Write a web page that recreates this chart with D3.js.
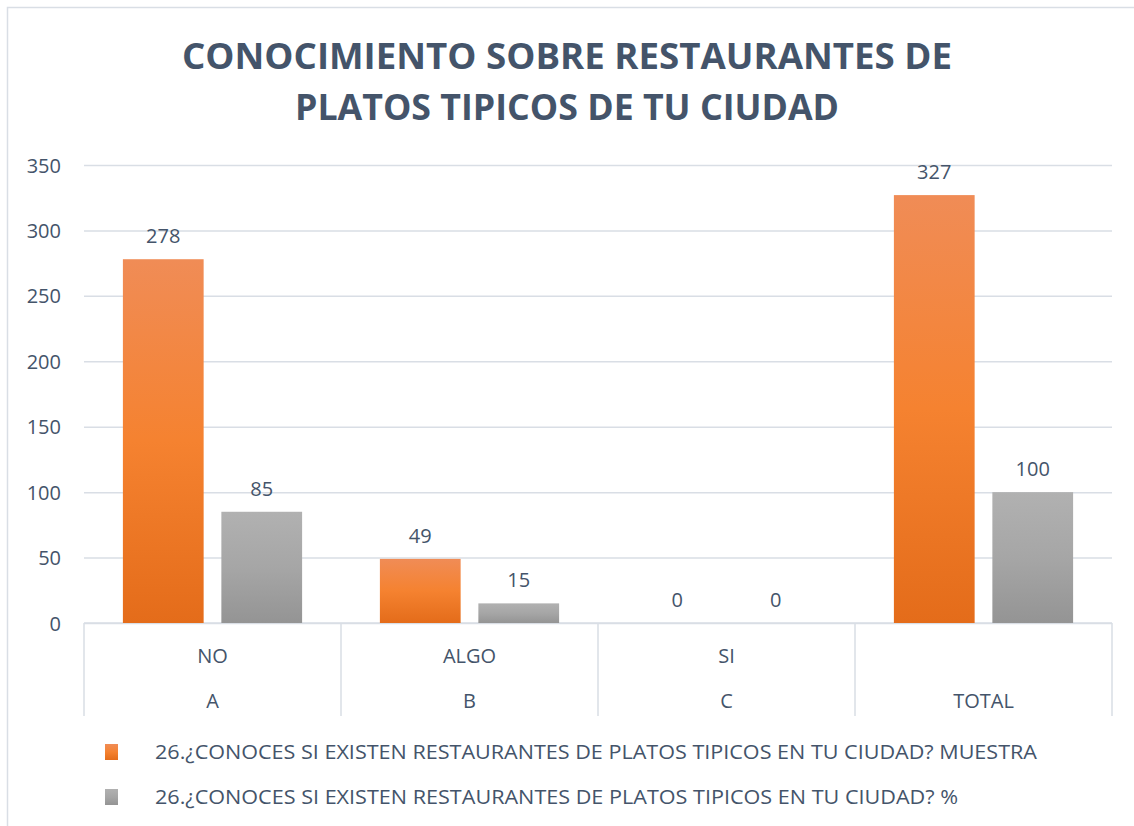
<!DOCTYPE html>
<html><head><meta charset="utf-8">
<script src="https://cdn.jsdelivr.net/npm/d3@7"></script>
<style>html,body{margin:0;padding:0;background:#fff;} svg{display:block;}</style>
</head><body>
<svg id="chart" width="1134" height="826"></svg>
<script>
const categories = ["NO","ALGO","SI","TOTAL"];
const subLabels = ["A","B","C","TOTAL"];
const muestra = [278,49,0,327];
const pct = [85,15,0,100];
const seriesNames = ["26.¿CONOCES SI EXISTEN RESTAURANTES DE PLATOS TIPICOS EN TU CIUDAD? MUESTRA","26.¿CONOCES SI EXISTEN RESTAURANTES DE PLATOS TIPICOS EN TU CIUDAD? %"];
const yTicks = [0,50,100,150,200,250,300,350];
const titleLines = ["CONOCIMIENTO SOBRE RESTAURANTES DE","PLATOS TIPICOS DE TU CIUDAD"];

const svg = d3.select("#chart");
const txt = "#44546A", grid = "#D9DEE5";
const font = "'Open Sans', sans-serif";
const fs = 20;

// outer frame
svg.append("rect").attr("x",7.5).attr("y",7.5).attr("width",1200).attr("height",900)
  .attr("fill","#fff").attr("stroke","#D9DEE5").attr("stroke-width",1.5);

const defs = svg.append("defs");
function grad(id, stops){
  const g = defs.append("linearGradient").attr("id",id).attr("x1",0).attr("y1",0).attr("x2",0).attr("y2",1);
  stops.forEach(s=>g.append("stop").attr("offset",s[0]).attr("stop-color",s[1]));
}
grad("gOr",[[0,"#F08C56"],[0.5,"#F58230"],[1,"#E46C1A"]]);
grad("gGr",[[0,"#B1B1B1"],[0.5,"#A6A6A6"],[1,"#949494"]]);

// title
const tw = [770,544], tb = [69,120];
titleLines.forEach((t,i)=>{
  svg.append("text").attr("x",567).attr("y",tb[i]).attr("text-anchor","middle")
    .attr("font-family",font).attr("font-weight",700).attr("font-size",36)
    .attr("fill",txt).attr("textLength",tw[i]).attr("lengthAdjust","spacingAndGlyphs").text(t);
});

const x0 = 84, x1 = 1112, yTop = 165, yBot = 623;
const y = d3.scaleLinear().domain([0,350]).range([yBot,yTop]);
const xb = d3.scaleBand().domain(categories).range([x0,x1]).paddingInner(0).paddingOuter(0);
const xs = d3.scaleBand().domain([0,1]).range([0,xb.bandwidth()]).paddingInner(0.18).paddingOuter(0.395);

// gridlines
const gAxis = svg.append("g").attr("transform",`translate(${x0},0)`)
  .call(d3.axisLeft(y).tickValues(yTicks).tickSize(-(x1-x0)).tickPadding(23).tickFormat(d3.format("d")));
gAxis.select(".domain").remove();
gAxis.selectAll(".tick line").attr("stroke",grid).attr("stroke-width",1.5);
gAxis.selectAll(".tick text").attr("font-family",font).attr("font-size",fs).attr("fill",txt).attr("dy","0.35em");

// category axis line and separators
svg.append("line").attr("x1",x0).attr("x2",x1).attr("y1",yBot).attr("y2",yBot).attr("stroke",grid).attr("stroke-width",1.5);
const seps = categories.map(c=>xb(c)).concat([x1]);
svg.selectAll(".sep").data(seps).enter().append("line")
  .attr("x1",d=>d).attr("x2",d=>d).attr("y1",yBot).attr("y2",716)
  .attr("stroke",grid).attr("stroke-width",1.5);

// bars
const series = [muestra,pct];
const fills = ["url(#gOr)","url(#gGr)"];
series.forEach((vals,si)=>{
  const g = svg.append("g");
  g.selectAll("rect").data(vals).enter().append("rect")
    .attr("x",(d,i)=>xb(categories[i])+xs(si))
    .attr("width",xs.bandwidth())
    .attr("y",d=>y(d)).attr("height",d=>yBot-y(d))
    .attr("fill",fills[si]);
  g.selectAll("text").data(vals).enter().append("text")
    .attr("x",(d,i)=>xb(categories[i])+xs(si)+xs.bandwidth()/2)
    .attr("y",d=>y(d)-16).attr("text-anchor","middle")
    .attr("font-family",font).attr("font-size",fs).attr("fill",txt).text(d=>d);
});

// category labels
categories.forEach((c,i)=>{
  const cx = xb(c)+xb.bandwidth()/2;
  if(c!=="TOTAL") svg.append("text").attr("x",cx).attr("y",663).attr("text-anchor","middle")
    .attr("font-family",font).attr("font-size",fs).attr("fill",txt).text(c);
  svg.append("text").attr("x",cx).attr("y",708).attr("text-anchor","middle")
    .attr("font-family",font).attr("font-size",fs).attr("fill",txt).text(subLabels[i]);
});

// legend
const lgFill = ["url(#gOr)","url(#gGr)"];
const lgY = [752,797];
seriesNames.forEach((n,i)=>{
  svg.append("rect").attr("x",105).attr("y",lgY[i]-8).attr("width",13).attr("height",16).attr("fill",lgFill[i]);
  svg.append("text").attr("x",155).attr("y",lgY[i]+7).attr("font-family",font).attr("font-size",fs)
    .attr("fill",txt).attr("textLength",i===0?882:803).attr("lengthAdjust","spacingAndGlyphs").text(n);
});
</script>
</body></html>
